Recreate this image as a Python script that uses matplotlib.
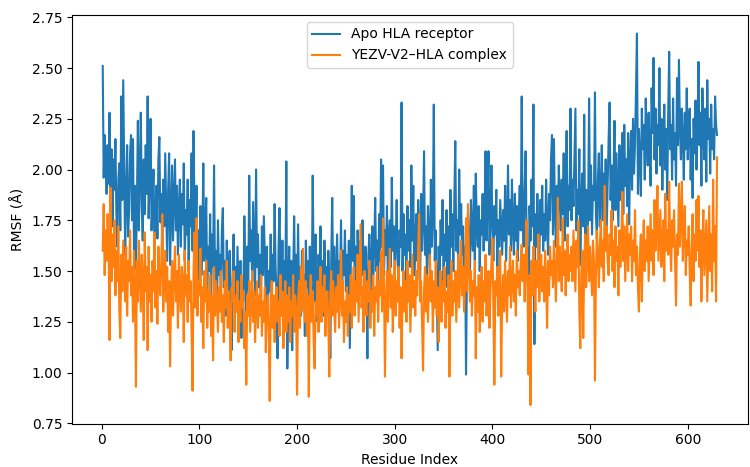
import numpy as np
import matplotlib
matplotlib.use("Agg")
import matplotlib.pyplot as plt

# RMSF per residue (approximate)
apo_rmsf = [
    2.51, 1.96, 2.17, 2.05, 1.88, 2.12, 1.93, 2.28, 1.84, 2.10,
    1.72, 2.05, 1.90, 2.15, 1.78, 1.62, 1.95, 2.03, 1.70, 2.36,
    1.85, 2.44, 2.02, 1.58, 1.90, 2.12, 1.67, 1.80, 2.08, 2.17,
    1.75, 2.15, 1.60, 1.92, 1.51, 1.83, 2.24, 1.70, 1.96, 2.28,
    1.82, 1.65, 2.05, 1.78, 2.12, 1.88, 2.36, 1.76, 1.95, 2.25,
    1.70, 1.84, 2.00, 1.58, 1.78, 1.92, 1.66, 2.05, 2.16, 1.74,
    1.88, 1.60, 1.95, 1.72, 2.08, 1.82, 1.55, 1.90, 2.08, 1.53,
    1.78, 2.02, 1.65, 1.85, 2.05, 1.70, 1.92, 1.58, 1.80, 1.95,
    1.62, 1.88, 1.73, 2.03, 1.55, 1.80, 1.68, 1.95, 1.50, 1.85,
    1.72, 2.08, 1.60, 2.19, 1.78, 1.65, 1.92, 1.45, 1.70, 1.58,
    1.82, 1.48, 1.66, 2.03, 1.55, 1.72, 1.86, 1.40, 1.62, 1.50,
    1.78, 1.35, 1.68, 1.52, 2.02, 1.45, 1.60, 1.30, 1.75, 1.48,
    1.58, 1.38, 1.70, 1.81, 1.42, 1.55, 1.28, 1.65, 1.45, 1.35,
    1.60, 1.25, 1.11, 1.48, 1.68, 1.38, 1.52, 1.30, 1.62, 1.42,
    1.20, 1.55, 1.17, 1.45, 1.35, 1.77, 1.50, 1.28, 1.62, 1.40,
    1.97, 1.55, 1.70, 1.45, 1.84, 1.60, 1.38, 2.00, 1.52, 1.68,
    1.42, 1.58, 1.30, 1.72, 1.48, 1.77, 1.55, 1.35, 1.62, 1.25,
    1.50, 1.40, 1.68, 1.30, 1.58, 1.45, 1.83, 1.52, 1.38, 1.07,
    1.60, 1.81, 1.48, 1.35, 1.65, 1.20, 1.55, 1.42, 2.04, 1.02,
    1.45, 1.62, 1.30, 1.55, 1.11, 1.48, 1.77, 1.38, 1.58, 1.25,
    1.73, 1.40, 1.52, 1.28, 1.60, 1.35, 1.48, 1.18, 1.65, 1.42,
    1.55, 1.30, 1.62, 1.45, 1.38, 1.97, 1.50, 1.35, 1.68, 1.42,
    1.25, 1.58, 1.48, 1.72, 1.36, 1.55, 1.28, 1.65, 1.40, 1.52,
    1.32, 1.60, 1.45, 1.07, 1.55, 1.86, 1.40, 1.62, 1.30, 1.50,
    1.68, 1.38, 1.55, 1.45, 1.75, 1.32, 1.60, 1.48, 1.70, 1.40,
    1.58, 1.35, 1.65, 1.12, 1.50, 1.92, 1.55, 1.87, 1.45, 1.62,
    1.40, 1.70, 1.52, 1.38, 1.65, 1.48, 1.75, 1.55, 1.30, 1.62,
    1.45, 1.07, 1.58, 1.68, 1.30, 1.55, 1.72, 1.48, 1.62, 1.86,
    1.50, 1.65, 1.42, 1.78, 1.55, 2.05, 1.62, 2.02, 1.48, 1.70,
    1.58, 1.82, 1.45, 1.68, 1.75, 1.52, 1.96, 1.60, 1.72, 1.48,
    1.65, 1.85, 1.55, 1.40, 1.70, 1.62, 2.33, 1.50, 1.78, 1.58,
    1.68, 1.45, 1.82, 1.60, 1.75, 1.52, 2.02, 1.65, 1.92, 1.48,
    1.62, 1.78, 1.55, 1.85, 1.70, 1.45, 1.88, 1.60, 1.75, 2.09,
    1.58, 1.72, 1.48, 1.82, 1.65, 1.52, 1.95, 1.62, 1.78, 2.32,
    1.55, 1.70, 1.40, 1.11, 1.62, 1.48, 1.75, 1.58, 1.85, 1.45,
    1.68, 1.55, 1.80, 1.42, 1.72, 1.35, 1.90, 1.62, 1.78, 1.50,
    1.85, 2.14, 1.60, 1.75, 1.52, 2.00, 1.68, 1.83, 1.58, 1.72,
    1.45, 1.62, 0.99, 1.55, 1.78, 1.65, 1.48, 1.85, 1.70, 1.60,
    1.92, 1.55, 1.98, 1.72, 1.62, 1.82, 1.50, 1.75, 1.68, 1.88,
    1.60, 1.78, 2.09, 1.65, 1.85, 2.09, 1.58, 1.75, 2.02, 1.70,
    1.55, 1.82, 1.68, 1.90, 1.48, 1.75, 1.62, 1.85, 1.72, 1.58,
    1.80, 1.65, 1.92, 1.55, 1.75, 2.02, 1.68, 1.85, 1.60, 1.95,
    1.72, 1.58, 1.88, 1.65, 1.82, 1.55, 1.78, 1.92, 1.70, 2.36,
    1.75, 1.62, 1.90, 2.09, 1.68, 1.55, 1.12, 1.82, 1.65, 1.95,
    1.72, 2.32, 1.14, 1.78, 1.62, 1.88, 1.70, 1.55, 1.85, 1.68,
    1.92, 1.60, 1.78, 1.65, 1.95, 1.72, 1.58, 1.88, 1.75, 2.05,
    2.17, 1.68, 2.15, 1.80, 1.62, 1.92, 1.75, 2.02, 1.85, 1.70,
    1.95, 1.78, 2.08, 1.65, 1.88, 2.19, 1.72, 1.92, 1.80, 2.30,
    1.75, 1.95, 1.82, 2.05, 2.30, 1.70, 1.90, 1.78, 2.10, 1.53,
    1.85, 1.98, 1.72, 2.27, 1.62, 1.90, 1.51, 1.80, 2.35, 1.75,
    2.02, 1.68, 1.92, 1.85, 2.38, 1.78, 1.65, 1.95, 2.08, 1.72,
    1.88, 2.12, 1.75, 1.98, 1.82, 2.05, 1.70, 1.92, 2.15, 2.33,
    1.85, 2.02, 1.75, 1.95, 2.24, 1.80, 2.08, 1.90, 1.72, 2.12,
    1.85, 1.98, 2.18, 1.78, 2.22, 1.92, 2.05, 1.82, 2.18, 1.73,
    2.05, 2.19, 1.90, 2.25, 1.98, 2.12, 2.38, 2.67, 1.88, 2.20,
    2.05, 1.87, 2.30, 2.10, 2.22, 1.95, 2.35, 2.15, 2.02, 2.28,
    2.08, 1.92, 2.40, 2.18, 2.55, 2.05, 2.30, 1.98, 2.22, 2.12,
    2.50, 2.02, 2.25, 1.90, 2.15, 2.32, 2.00, 2.20, 1.85, 2.28,
    2.58, 2.10, 2.22, 1.95, 2.35, 2.05, 2.18, 1.92, 2.45, 2.12,
    2.54, 2.20, 2.05, 2.30, 2.15, 1.95, 2.28, 2.10, 2.40, 2.05,
    2.22, 2.30, 1.95, 2.15, 1.86, 2.25, 2.08, 2.34, 2.00, 2.20,
    2.53, 2.12, 2.28, 1.92, 2.40, 2.18, 2.05, 2.30, 1.94, 2.44,
    2.15, 2.25, 1.98, 2.32, 2.10, 2.20, 2.05, 2.36, 2.22, 2.17,
]

complex_rmsf = [
    1.60, 1.83, 1.48, 1.70, 1.55, 1.78, 1.62, 1.16, 1.91, 1.45,
    1.68, 1.52, 1.75, 1.38, 1.60, 1.45, 1.72, 1.30, 1.17, 1.58,
    1.40, 1.65, 1.50, 1.35, 1.62, 1.28, 1.55, 1.45, 1.70, 1.38,
    1.52, 1.25, 1.60, 1.42, 0.93, 1.55, 1.35, 1.65, 1.48, 1.30,
    1.58, 1.45, 1.16, 1.69, 1.40, 1.52, 1.11, 1.62, 1.35, 1.48,
    1.25, 1.55, 1.40, 1.69, 1.32, 1.50, 1.24, 1.62, 1.45, 1.38,
    1.55, 1.78, 1.30, 1.48, 1.60, 1.35, 1.52, 1.20, 1.45, 1.03,
    1.40, 1.55, 1.28, 1.48, 1.62, 1.35, 1.50, 1.22, 1.58, 1.40,
    1.30, 1.52, 1.45, 1.15, 1.60, 1.38, 1.48, 1.25, 1.55, 1.35,
    1.45, 1.20, 0.91, 1.50, 1.69, 1.32, 1.76, 1.28, 1.45, 1.38,
    1.61, 1.25, 1.42, 1.12, 1.50, 1.35, 1.55, 1.22, 1.40, 1.30,
    1.48, 1.18, 1.38, 1.06, 1.52, 1.28, 1.45, 1.35, 1.20, 1.42,
    1.30, 1.50, 1.25, 1.38, 1.15, 1.45, 1.32, 1.55, 1.22, 1.40,
    1.28, 1.06, 1.42, 1.35, 1.50, 1.20, 1.38, 1.30, 1.45, 1.15,
    1.35, 1.25, 1.48, 1.32, 1.40, 1.12, 1.30, 0.94, 1.38, 1.28,
    1.45, 1.20, 1.35, 1.50, 1.25, 1.40, 1.15, 1.32, 1.45, 1.22,
    1.38, 1.28, 1.48, 1.18, 1.35, 1.25, 1.42, 1.10, 1.30, 1.38,
    1.20, 0.86, 1.32, 1.45, 1.22, 1.38, 1.15, 1.30, 1.42, 1.25,
    1.35, 1.18, 1.48, 1.28, 1.40, 1.12, 1.32, 1.45, 1.20, 1.38,
    1.25, 1.42, 1.15, 1.35, 1.28, 1.48, 1.20, 1.38, 1.30, 0.89,
    1.35, 1.45, 1.22, 1.52, 1.30, 1.61, 1.40, 1.25, 1.45, 1.18,
    1.38, 0.88, 1.32, 1.48, 1.25, 1.40, 1.15, 1.02, 1.35, 1.28,
    1.45, 1.20, 1.38, 1.52, 1.25, 1.42, 1.30, 1.48, 1.18, 1.35,
    1.40, 1.25, 0.98, 1.38, 1.50, 1.28, 1.45, 1.32, 1.20, 1.42,
    1.30, 1.48, 1.22, 1.38, 1.60, 1.28, 1.45, 1.15, 1.35, 1.25,
    1.42, 1.18, 1.38, 1.30, 1.48, 1.22, 1.40, 1.52, 1.28, 1.45,
    1.35, 1.58, 1.25, 1.48, 1.73, 1.32, 1.42, 1.20, 1.50, 1.38,
    1.28, 1.45, 1.35, 1.55, 1.22, 1.40, 1.30, 1.48, 1.18, 1.42,
    1.35, 1.52, 1.25, 1.45, 1.38, 1.60, 1.30, 1.76, 1.42, 0.98,
    1.35, 1.50, 1.25, 1.45, 1.61, 1.32, 1.48, 1.20, 1.40, 1.55,
    1.28, 1.45, 1.35, 1.52, 1.22, 1.42, 1.07, 1.38, 1.50, 1.30,
    1.45, 1.25, 1.55, 1.35, 1.48, 1.20, 1.40, 1.58, 1.32, 1.45,
    1.28, 1.50, 1.38, 1.62, 1.78, 1.35, 1.45, 1.22, 1.01, 1.40,
    1.52, 1.30, 1.48, 1.25, 1.42, 1.58, 1.35, 1.50, 1.20, 1.45,
    1.32, 1.55, 1.28, 1.42, 1.15, 1.38, 1.50, 1.25, 1.45, 1.35,
    1.52, 1.22, 1.40, 1.30, 1.48, 0.98, 1.38, 1.55, 1.28, 1.45,
    1.35, 1.50, 1.25, 1.42, 1.58, 1.32, 1.48, 1.65, 1.38, 1.52,
    1.30, 1.45, 1.76, 1.40, 1.83, 1.55, 1.35, 1.50, 1.28, 1.45,
    1.38, 1.55, 1.07, 1.42, 1.30, 1.48, 1.20, 1.38, 1.52, 1.25,
    1.45, 1.35, 1.58, 1.28, 1.42, 1.50, 1.22, 1.40, 1.55, 1.66,
    1.32, 0.94, 1.45, 1.38, 1.52, 1.28, 1.42, 1.60, 0.98, 1.35,
    1.48, 1.30, 1.55, 1.40, 1.25, 1.50, 1.38, 1.62, 1.32, 1.45,
    1.55, 1.35, 1.48, 1.28, 1.60, 1.42, 1.50, 1.38, 1.55, 1.63,
    1.45, 1.58, 1.35, 1.52, 1.75, 1.40, 0.99, 1.48, 0.84, 1.55,
    1.38, 1.62, 1.45, 1.30, 1.55, 1.42, 1.68, 1.35, 1.50, 1.58,
    1.40, 1.52, 1.35, 1.60, 1.45, 1.22, 1.55, 1.38, 1.62, 1.48,
    1.55, 1.42, 1.65, 1.50, 1.35, 1.58, 1.86, 1.45, 1.62, 1.52,
    1.40, 1.76, 1.48, 1.60, 1.38, 1.55, 1.68, 1.45, 1.58, 1.50,
    1.62, 1.45, 1.70, 1.55, 1.40, 1.65, 1.52, 1.75, 1.30, 1.12,
    1.48, 1.60, 1.17, 1.55, 1.68, 1.42, 1.58, 1.72, 1.45, 1.62,
    1.50, 1.38, 1.65, 1.55, 0.96, 1.48, 1.70, 1.58, 1.42, 1.62,
    1.75, 1.52, 1.65, 1.45, 1.92, 1.60, 1.72, 1.55, 1.48, 1.68,
    1.58, 1.80, 1.50, 1.65, 1.42, 1.72, 1.55, 1.62, 1.38, 1.70,
    1.52, 1.65, 1.89, 1.55, 1.72, 1.45, 1.62, 1.78, 1.50, 1.68,
    1.58, 1.72, 1.45, 1.65, 1.55, 1.80, 1.48, 1.62, 1.42, 1.30,
    1.58, 1.68, 1.35, 1.62, 1.75, 1.50, 1.65, 1.55, 1.72, 1.45,
    1.62, 1.78, 1.55, 1.70, 1.48, 1.85, 1.60, 1.72, 1.92, 1.55,
    1.68, 1.80, 1.52, 1.65, 1.75, 1.45, 1.88, 1.60, 1.70, 1.58,
    1.94, 1.65, 1.50, 1.75, 1.62, 1.80, 1.55, 1.33, 1.68, 1.58,
    1.93, 1.62, 1.75, 1.94, 1.55, 1.70, 1.82, 1.48, 1.65, 1.58,
    1.72, 1.50, 1.33, 1.62, 1.78, 1.45, 1.68, 1.55, 1.85, 1.60,
    1.87, 1.52, 1.70, 1.35, 1.65, 1.80, 1.48, 1.62, 1.75, 1.35,
    1.58, 1.82, 1.50, 1.68, 1.40, 1.95, 1.55, 1.72, 1.35, 2.06,
]

residues = np.arange(1, len(apo_rmsf) + 1)

fig = plt.figure(figsize=(7.5, 4.67), dpi=100)
ax = fig.add_subplot(111)
fig.subplots_adjust(left=0.096, right=0.997, top=0.968, bottom=0.093)

ax.plot(residues, apo_rmsf, label="Apo HLA receptor")
ax.plot(residues, complex_rmsf, label="YEZV-V2\u2013HLA complex")

ax.set_xlabel("Residue Index")
ax.set_ylabel("RMSF (Å)")
ax.legend(loc="upper center")

fig.savefig("out.png", dpi=100)
